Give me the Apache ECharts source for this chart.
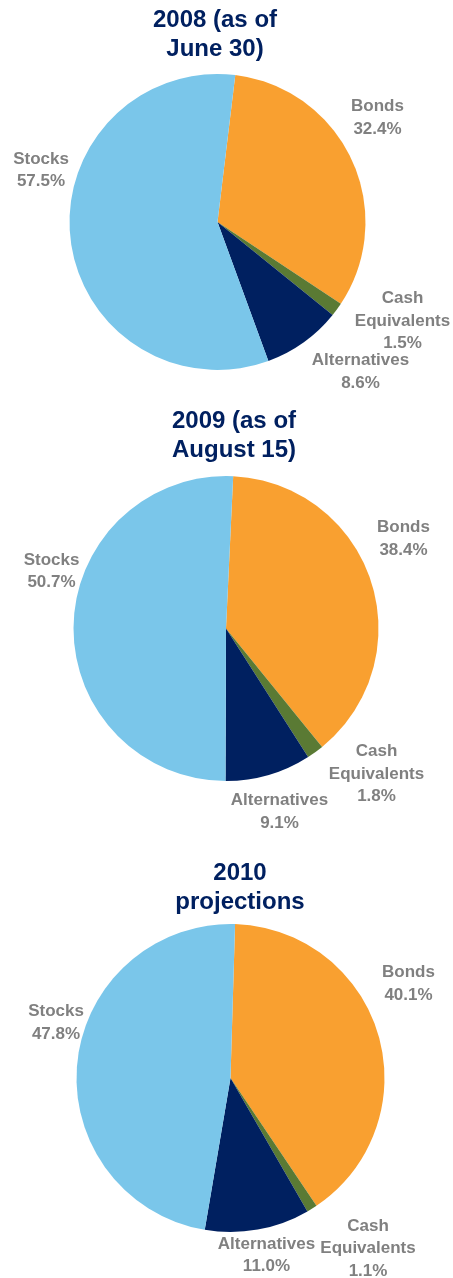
<!DOCTYPE html>
<html>
<head>
<meta charset="utf-8">
<title>Asset allocation</title>
<script src="https://cdn.jsdelivr.net/npm/echarts@6/dist/echarts.min.js"></script>
<style>
  html, body { margin: 0; padding: 0; background: #ffffff; }
  #chart { width: 453px; height: 1278px; }
</style>
</head>
<body>
<div id="chart"></div>
<script>
// Asset classes, in clockwise drawing order
const categories = ['Bonds', 'Cash\nEquivalents', 'Alternatives', 'Stocks'];

// Allocation shares (%) for each period
const alloc2008 = [32.4, 1.5, 8.6, 57.5];
const alloc2009 = [38.4, 1.8, 9.1, 50.7];
const alloc2010 = [40.1, 1.1, 11.0, 47.8];

const titles = ['2008 (as of\nJune 30)', '2009 (as of\nAugust 15)', '2010\nprojections'];

const sliceColors = ['#F9A030', '#5A7A34', '#002060', '#7AC6EA'];

// Layout of each pie: centre, radius, start angle, title anchor
const pies = [
  { values: alloc2008, center: [217.5, 222], radius: 148, startAngle: 83.1, titleX: 215, titleY: 6.5 },
  { values: alloc2009, center: [226, 628.5], radius: 152.5, startAngle: 87.3, titleX: 234, titleY: 407.5 },
  { values: alloc2010, center: [230.5, 1078], radius: 154, startAngle: 88.3, titleX: 240, titleY: 859.5 }
];

// Label anchor offsets from each pie centre (per slice)
const labelOffsets = [
  [[160, -104], [185, 99], [143, 150], [-176.5, -51.5]],
  [[177.5, -89.5], [150.5, 145.5], [53.5, 183.5], [-174.5, -57]],
  [[178, -94], [137.5, 170.5], [36, 177.5], [-174.5, -55]]
];

const chart = echarts.init(document.getElementById('chart'), null, { renderer: 'canvas' });

const option = {
  backgroundColor: '#ffffff',
  animation: false,
  title: pies.map((p, i) => ({
    text: titles[i],
    left: p.titleX,
    top: p.titleY,
    textAlign: 'center',
    padding: 0,
    textStyle: {
      fontFamily: 'Liberation Sans, Arial, sans-serif',
      fontWeight: 'bold',
      fontSize: 24,
      lineHeight: 28.5,
      color: '#002060'
    }
  })),
  series: pies.map((p, si) => ({
    type: 'pie',
    center: p.center,
    radius: p.radius,
    startAngle: p.startAngle,
    clockwise: true,
    avoidLabelOverlap: false,
    silent: true,
    itemStyle: { borderWidth: 0 },
    label: {
      show: true,
      position: 'outside',
      formatter: (d) => d.name + '\n' + d.value.toFixed(1) + '%',
      fontFamily: 'Liberation Sans, Arial, sans-serif',
      fontWeight: 'bold',
      fontSize: 17,
      lineHeight: 22.5,
      color: '#808080',
      align: 'center'
    },
    labelLine: { show: false },
    labelLayout: (params) => {
      const off = labelOffsets[si][params.dataIndex];
      return {
        x: p.center[0] + off[0],
        y: p.center[1] + off[1],
        align: 'center',
        verticalAlign: 'middle'
      };
    },
    data: categories.map((name, k) => ({
      name: name,
      value: p.values[k],
      itemStyle: { color: sliceColors[k] }
    }))
  }))
};

chart.setOption(option);
</script>
</body>
</html>
